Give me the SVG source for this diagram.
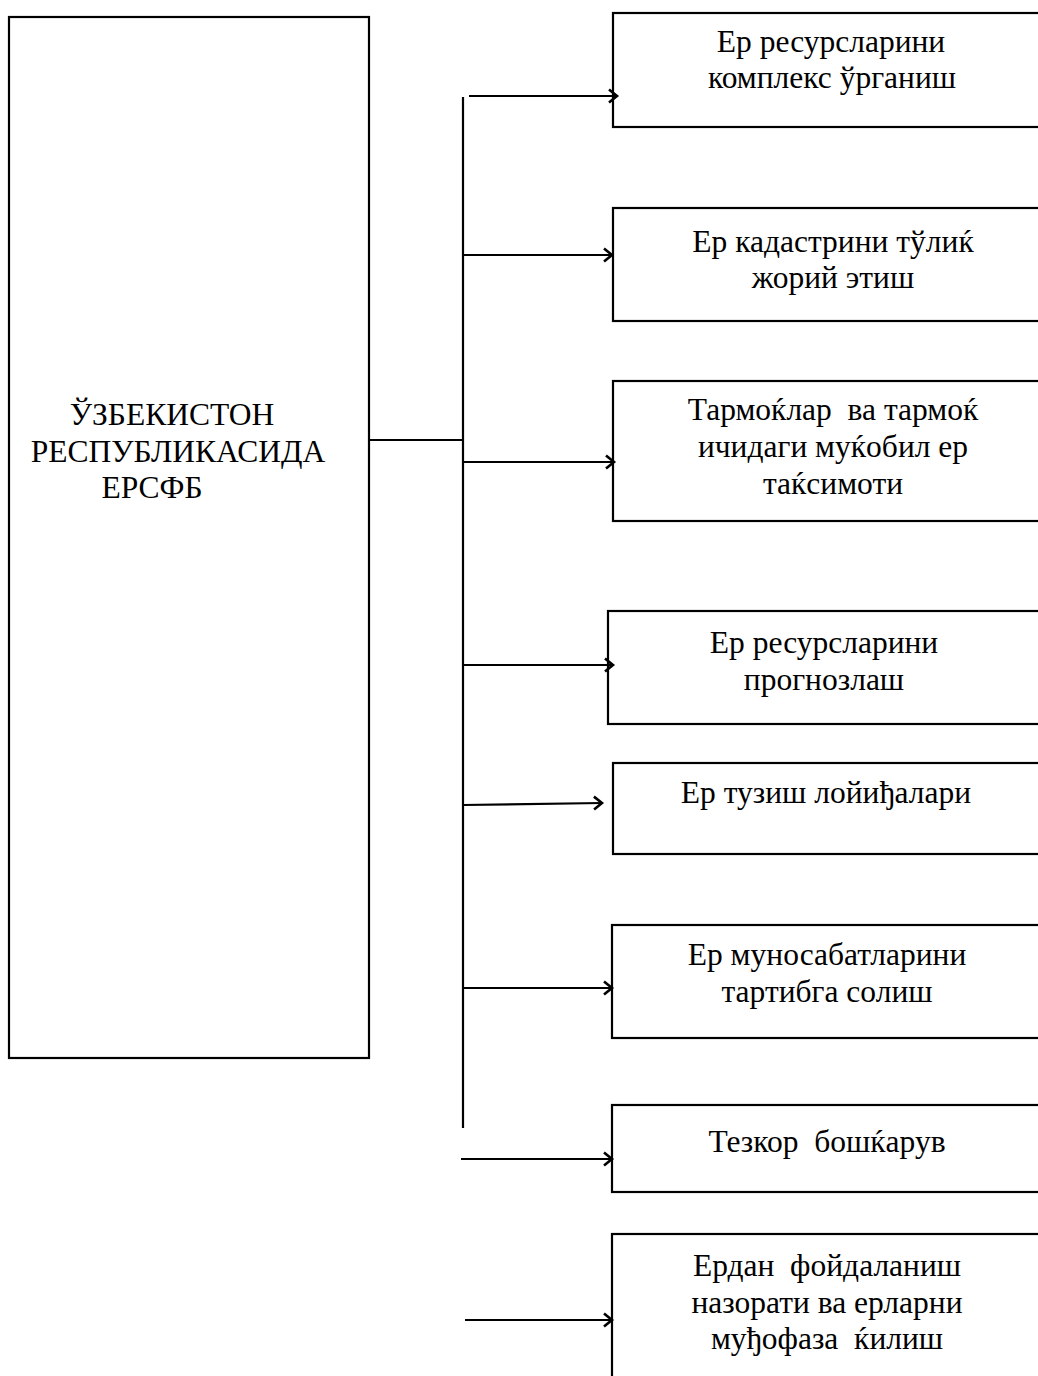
<svg xmlns="http://www.w3.org/2000/svg" width="1038" height="1376" viewBox="0 0 1038 1376">
<style>
.box{fill:#fff;stroke:#000;stroke-width:2.2}
.t{font-family:"Liberation Serif","Times New Roman",serif;font-size:31.5px;fill:#000;text-anchor:middle;white-space:pre}
.c{stroke:#000;stroke-width:2.2;fill:none}
</style>
<defs>
<marker id="arr" markerUnits="userSpaceOnUse" markerWidth="14" markerHeight="16" refX="10" refY="8" orient="auto">
<path d="M2,1.5 L10,8 L2,14.5" fill="none" stroke="#000" stroke-width="2.6"/>
</marker>
</defs>
<g id="main">
<rect class="box" x="9" y="17" width="360" height="1041"/>
<text class="t" x="172" y="425">ЎЗБЕКИСТОН</text>
<text class="t" x="178" y="462">РЕСПУБЛИКАСИДА</text>
<text class="t" x="152" y="498">ЕРСФБ</text>
</g>
<g id="n1">
<rect class="box" x="613" y="13" width="440" height="114"/>
<text class="t" x="831" y="52">Ер ресурсларини</text>
<text class="t" x="832" y="88">комплекс ўрганиш</text>
</g>
<g id="n2">
<rect class="box" x="613" y="208" width="440" height="113"/>
<text class="t" x="833" y="252">Ер кадастрини тўлиќ</text>
<text class="t" x="833" y="288">жорий этиш</text>
</g>
<g id="n3">
<rect class="box" x="613" y="381" width="440" height="140"/>
<text class="t" x="833" y="420">Тармоќлар  ва тармоќ</text>
<text class="t" x="833" y="457">ичидаги муќобил ер</text>
<text class="t" x="833" y="494">таќсимоти</text>
</g>
<g id="n4">
<rect class="box" x="608" y="611" width="445" height="113"/>
<text class="t" x="824" y="653">Ер ресурсларини</text>
<text class="t" x="824" y="690">прогнозлаш</text>
</g>
<g id="n5">
<rect class="box" x="613" y="763" width="440" height="91"/>
<text class="t" x="826" y="803">Ер тузиш лойиђалари</text>
</g>
<g id="n6">
<rect class="box" x="612" y="925" width="441" height="113"/>
<text class="t" x="827" y="965">Ер муносабатларини</text>
<text class="t" x="827" y="1002">тартибга солиш</text>
</g>
<g id="n7">
<rect class="box" x="612" y="1105" width="441" height="87"/>
<text class="t" x="827" y="1152">Тезкор  бошќарув</text>
</g>
<g id="n8">
<rect class="box" x="612" y="1234" width="441" height="160"/>
<text class="t" x="827" y="1276">Ердан  фойдаланиш</text>
<text class="t" x="827" y="1313">назорати ва ерларни</text>
<text class="t" x="827" y="1349">муђофаза  ќилиш</text>
</g>
<g id="connectors">
<line class="c" x1="369" y1="440" x2="463" y2="440"/>
<line class="c" x1="463" y1="97" x2="463" y2="1128"/>
<line class="c" x1="469" y1="96" x2="617" y2="96" marker-end="url(#arr)"/>
<line class="c" x1="463" y1="255" x2="612" y2="255" marker-end="url(#arr)"/>
<line class="c" x1="463" y1="462" x2="614" y2="462" marker-end="url(#arr)"/>
<line class="c" x1="463" y1="665" x2="613" y2="665" marker-end="url(#arr)"/>
<line class="c" x1="463" y1="805" x2="602" y2="803" marker-end="url(#arr)"/>
<line class="c" x1="463" y1="988" x2="612" y2="988" marker-end="url(#arr)"/>
<line class="c" x1="461" y1="1159" x2="612" y2="1159" marker-end="url(#arr)"/>
<line class="c" x1="465" y1="1320" x2="612" y2="1320" marker-end="url(#arr)"/>
</g>
</svg>
